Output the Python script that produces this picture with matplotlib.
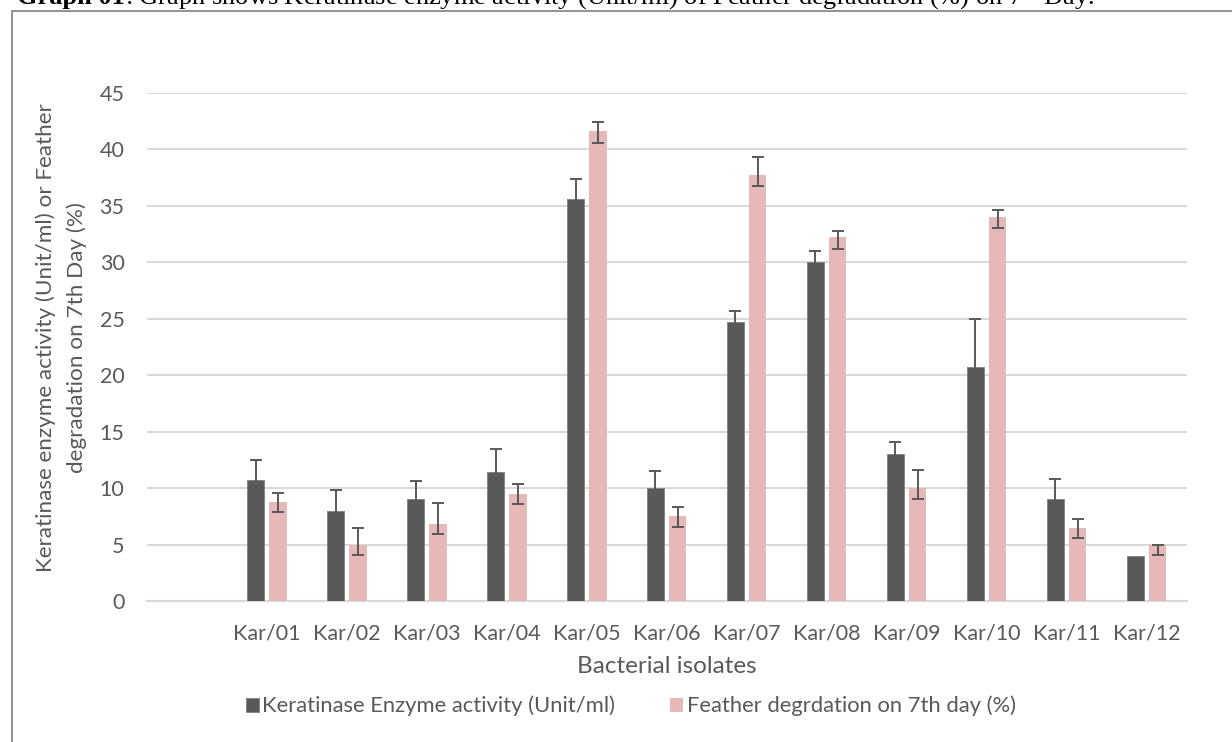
import numpy as np
import matplotlib.pyplot as plt
from matplotlib.patches import Rectangle

plt.rcParams['font.family'] = ['Lato', 'DejaVu Sans']
plt.rcParams['mathtext.fontset'] = 'custom'
plt.rcParams['mathtext.rm'] = 'Liberation Serif'

# data (first slot is empty in the original)
isolates = ['', 'Kar/01', 'Kar/02', 'Kar/03', 'Kar/04', 'Kar/05', 'Kar/06',
            'Kar/07', 'Kar/08', 'Kar/09', 'Kar/10', 'Kar/11', 'Kar/12']
keratinase = [np.nan, 10.7, 8.0, 9.0, 11.4, 35.6, 10.0, 24.7, 30.0, 13.0, 20.7, 9.0, 4.0]
keratinase_err = [0, 1.8, 1.8, 1.6, 2.1, 1.8, 1.5, 1.0, 1.0, 1.1, 4.3, 1.8, 0.0]
feather = [np.nan, 8.8, 5.0, 6.8, 9.5, 41.6, 7.5, 37.7, 32.2, 10.0, 34.0, 6.5, 5.0]
feather_err_lo = [0, 0.9, 0.9, 0.9, 0.9, 1.0, 0.9, 0.9, 1.0, 1.0, 1.0, 0.9, 0.9]
feather_err_hi = [0, 0.8, 1.5, 1.9, 0.9, 0.8, 0.8, 1.6, 0.6, 1.6, 0.6, 0.8, 0.0]

dark = '#595959'
pink = '#E6B8B7'
txt = '#595959'
grid = '#D9D9D9'

fig = plt.figure(figsize=(12.32, 7.42), dpi=100)
ax = fig.add_axes([0.1191, 0.19, 0.8441, 0.6847])

x = np.arange(len(isolates))
w = 0.215
ax.bar(x - 0.14, keratinase, w, color=dark, edgecolor='#7f7f7f', linewidth=0.6,
       label='Keratinase Enzyme activity (Unit/ml)', zorder=3)
ax.bar(x + 0.14, feather, w, color=pink, linewidth=0,
       label='Feather degrdation on 7th day (%)', zorder=3)

# error bars, only where the chart shows one
ekw = dict(fmt='none', ecolor=dark, elinewidth=1.4, capsize=4.3, capthick=1.4, zorder=4)
k_err = np.array(keratinase_err)
k_has = k_err > 0
ax.errorbar((x - 0.14)[k_has], np.array(keratinase)[k_has], yerr=k_err[k_has], **ekw)
f_lo = np.array(feather_err_lo)
f_hi = np.array(feather_err_hi)
f_has = (f_lo + f_hi) > 0
ax.errorbar((x + 0.14)[f_has], np.array(feather)[f_has],
            yerr=[f_lo[f_has], f_hi[f_has]], **ekw)

ax.set_xlim(-0.5, len(isolates) - 0.5)
ax.set_ylim(0, 45)
ax.set_yticks(np.arange(0, 46, 5))
ax.set_xticks(x)
ax.set_xticklabels(isolates)
ax.yaxis.grid(True, color=grid, linewidth=1.5, zorder=0)
ax.set_axisbelow(True)
for s in ['top', 'right', 'left']:
    ax.spines[s].set_visible(False)
ax.spines['bottom'].set_color(grid)
ax.spines['bottom'].set_linewidth(1.5)
ax.tick_params(axis='both', length=0, labelsize=15.5, colors=txt)
ax.tick_params(axis='y', pad=16)
ax.tick_params(axis='x', pad=16)

ax.set_xlabel('Bacterial isolates', fontsize=17.5, color=txt, labelpad=9)
fig.text(0.0495, 0.5445, 'Keratinase enzyme activity (Unit/ml) or Feather\ndegradation on 7th Day (%)',
         rotation=90, ha='center', va='center', fontsize=16.2, color=txt,
         multialignment='center', linespacing=1.65)

fig.legend(loc='center', bbox_to_anchor=(0.512, 1 - 706 / 742), ncol=2, frameon=False,
           fontsize=15.8, handlelength=0.6, handleheight=0.6, handletextpad=0.15,
           columnspacing=2.5, labelcolor=txt)

# outer frame of the figure box
fig.patches.append(Rectangle((12 / 1232, -0.05), 1.1, 1 - 11 / 742 + 0.05,
                             transform=fig.transFigure, fill=False,
                             edgecolor='#7f7f7f', linewidth=1.2))

# caption, mostly cut off at the top in the original
fig.canvas.draw()
t1 = fig.text(17 / 1232, 1 - 4 / 742, 'Graph 01', fontweight='bold', fontsize=19,
              family='Liberation Serif', va='baseline', ha='left')
bb = t1.get_window_extent(fig.canvas.get_renderer())
fig.text(bb.x1 / 1232, 1 - 4 / 742,
         r': Graph shows Keratinase enzyme activity (Unit/ml) of Feather degradation (%) on 7$^{\mathrm{th}}$ Day.',
         fontsize=19, family='Liberation Serif', va='baseline', ha='left')

fig.savefig('out.png', dpi=100)
